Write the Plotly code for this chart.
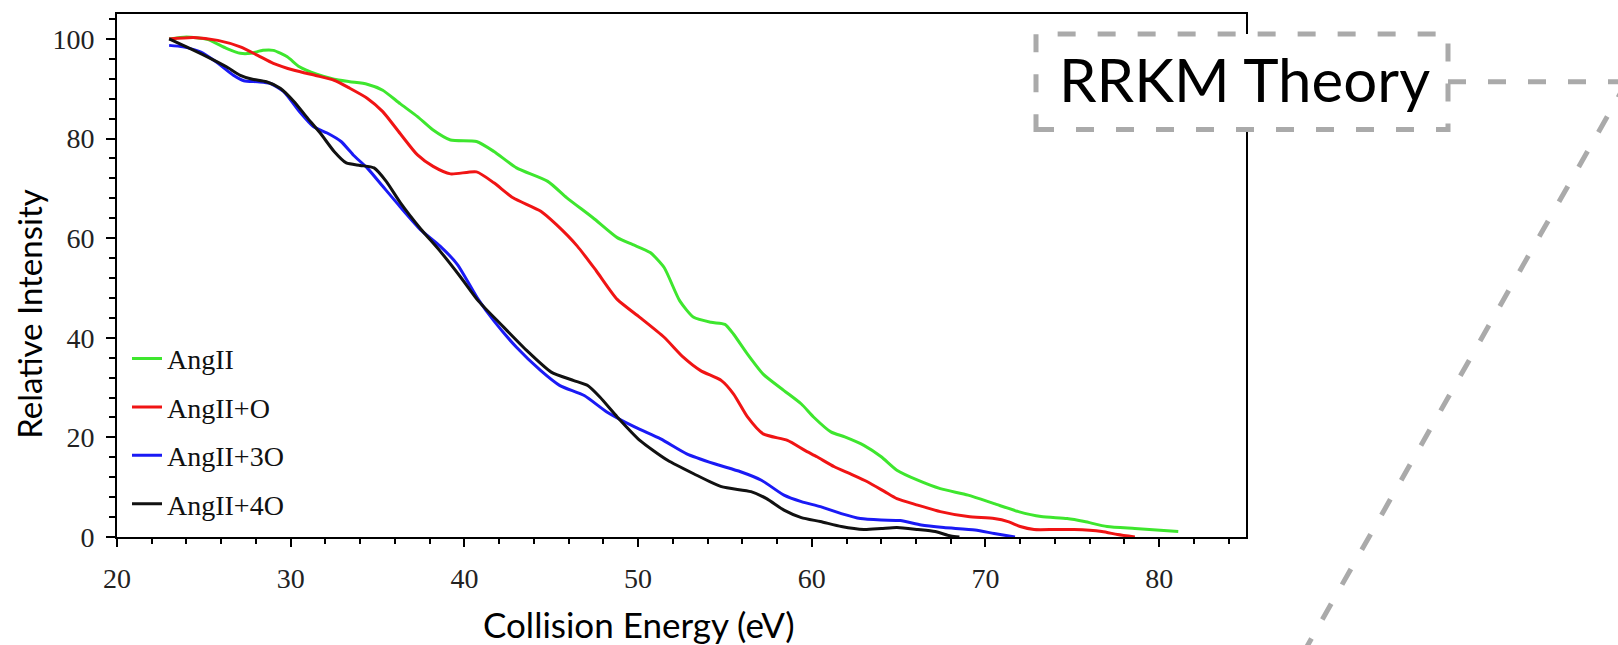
import plotly.graph_objects as go

# ---------------- data ----------------
series_names = ["AngII", "AngII+O", "AngII+3O", "AngII+4O"]

x_angii = [23, 24.0, 25.2, 26.3, 27.1, 27.7, 28.4, 29.0, 29.8, 30.5, 31.5, 32.5, 33.4, 34.4, 35.3,
           36.3, 37.3, 38.2, 39.2, 40.7, 41.7, 43.0, 44.8, 45.9, 47.4, 48.8, 49.7, 50.7, 51.5, 52.4,
           53.2, 54.2, 55.0, 55.5, 56.3, 57.2, 58.4, 59.4, 60.1, 61.1, 61.9, 63.0, 64.0, 64.9, 66.1,
           67.4, 69.0, 70.5, 71.9, 73.2, 74.7, 75.7, 77.0, 78.6, 81.1]
y_angii = [100, 100.4, 99.9, 98.1, 97.1, 97.1, 97.7, 97.7, 96.4, 94.4, 92.9, 91.9, 91.4, 90.9, 89.7,
           87.0, 84.4, 81.7, 79.7, 79.4, 77.4, 74.1, 71.4, 68.1, 64.1, 60.1, 58.7, 57.1, 54.1, 47.4,
           44.1, 43.1, 42.7, 40.7, 36.7, 32.7, 29.4, 26.7, 24.1, 21.1, 20.1, 18.4, 16.1, 13.4, 11.4,
           9.7, 8.4, 6.7, 5.1, 4.1, 3.7, 3.1, 2.1, 1.7, 1.1]

x_angii_o = [23, 24.4, 25.8, 27.1, 28.1, 29.0, 30.2, 31.5, 32.5, 33.4, 34.4, 35.3, 36.3, 37.3, 38.2,
             39.2, 40.7, 41.7, 42.8, 44.4, 45.3, 46.5, 47.6, 48.8, 50.1, 51.5, 52.6, 53.6, 54.8, 55.5,
             56.3, 57.2, 58.6, 59.6, 60.3, 61.3, 62.2, 63.2, 64.2, 64.9, 66.1, 67.4, 69.0, 70.5, 71.3,
             72.0, 72.8, 74.0, 75.1, 76.7, 77.6, 78.6]
y_angii_o = [100, 100.3, 99.7, 98.4, 96.7, 95.1, 93.7, 92.6, 91.7, 90.1, 88.1, 85.4, 81.0, 76.7, 74.4,
             72.9, 73.3, 71.1, 68.1, 65.4, 62.7, 58.4, 53.4, 47.7, 44.1, 40.1, 36.1, 33.4, 31.4, 28.7,
             24.1, 20.7, 19.4, 17.4, 16.1, 14.1, 12.7, 11.1, 9.1, 7.7, 6.4, 5.1, 4.1, 3.7, 3.1,
             2.1, 1.5, 1.5, 1.5, 1.1, 0.5, 0]

x_angii_3o = [23, 23.8, 24.8, 25.7, 26.7, 27.3, 28.1, 28.8, 29.6, 30.5, 31.3, 32.1, 32.9, 33.6, 34.4,
              35.3, 36.3, 37.5, 38.6, 39.6, 40.8, 41.7, 43.0, 44.4, 45.5, 46.9, 48.2, 49.8, 51.3, 52.8,
              54.4, 55.9, 57.1, 58.4, 59.4, 60.5, 61.7, 62.8, 64.0, 65.1, 66.3, 67.6, 69.4, 70.5, 71.7]
y_angii_3o = [98.7, 98.4, 97.4, 95.4, 92.7, 91.6, 91.4, 91.1, 89.4, 85.4, 82.4, 81.1, 79.4, 76.7, 74.1,
              70.4, 66.3, 61.6, 58.4, 54.7, 47.7, 43.4, 38.1, 33.4, 30.4, 28.4, 25.1, 22.1, 19.7, 16.7,
              14.7, 13.1, 11.4, 8.4, 7.1, 6.1, 4.7, 3.7, 3.4, 3.3, 2.4, 1.9, 1.4, 0.7, 0]

x_angii_4o = [23, 24.0, 25.2, 26.3, 27.1, 27.8, 28.6, 29.4, 30.2, 30.9, 31.7, 32.5, 33.2, 34.0, 34.8,
              35.5, 36.3, 37.5, 38.6, 39.8, 40.8, 42.1, 43.6, 45.0, 46.3, 47.1, 47.8, 48.8, 50.1, 51.7,
              53.2, 54.8, 56.5, 57.4, 58.4, 59.4, 60.5, 61.7, 63.0, 64.0, 64.9, 66.1, 67.1, 68.0, 68.5]
y_angii_4o = [100, 98.4, 96.4, 94.4, 92.7, 91.9, 91.4, 90.1, 87.4, 84.4, 81.1, 77.4, 75.1, 74.6, 74.1,
              71.4, 67.2, 61.8, 57.4, 52.1, 47.4, 42.7, 37.4, 33.1, 31.4, 30.4, 28.1, 24.1, 19.4, 15.4,
              12.7, 10.1, 9.1, 7.7, 5.4, 3.9, 3.1, 2.1, 1.5, 1.7, 1.9, 1.5, 1.1, 0.2, 0]

series_x = [x_angii, x_angii_o, x_angii_3o, x_angii_4o]
series_y = [y_angii, y_angii_o, y_angii_3o, y_angii_4o]
series_colors = ["#3ee62e", "#f01414", "#1a1af5", "#111111"]

x_tickvals = [20, 30, 40, 50, 60, 70, 80]
y_tickvals = [0, 20, 40, 60, 80, 100]

x_title = "Collision Energy (eV)"
y_title = "Relative Intensity"
callout_text = "RRKM Theory"

# ---------------- figure ----------------
W, H = 1618, 645
ML, MR, MT, MB = 117, 372, 12, 108
PW, PH = W - ML - MR, H - MT - MB


def px_x(p):
    return (p - ML) / PW


def px_y(p):
    return (H - MB - p) / PH


fig = go.Figure()
for name, xs, ys, col in zip(series_names, series_x, series_y, series_colors):
    fig.add_trace(go.Scatter(
        x=xs, y=ys, name=name, mode="lines", legendgroup=name,
        line=dict(color=col, width=3, shape="spline", smoothing=0.6),
    ))

serif = "Liberation Serif, Times New Roman, serif"
sans = "Lato, Open Sans, sans-serif"

fig.update_layout(
    width=W, height=H,
    margin=dict(l=ML, r=MR, t=MT, b=MB, pad=0),
    paper_bgcolor="white", plot_bgcolor="white",
    showlegend=True,
    legend=dict(
        x=px_x(127), y=px_y(333), xanchor="left", yanchor="top",
        bgcolor="rgba(0,0,0,0)", borderwidth=0,
        font=dict(family=serif, size=28, color="#111"),
        tracegroupgap=9, itemwidth=30,
    ),
    xaxis=dict(
        range=[20, 85], tickvals=x_tickvals, showgrid=False, zeroline=False,
        showline=True, linecolor="black", linewidth=2, mirror=True,
        ticks="outside", ticklen=8, tickwidth=1.5, tickcolor="black",
        minor=dict(dtick=2, tick0=20, ticks="outside", ticklen=5, tickwidth=1.5, tickcolor="black", showgrid=False),
        tickfont=dict(family=serif, size=28, color="#222"),
        ticklabelstandoff=7,
    ),
    yaxis=dict(
        range=[0, 105], tickvals=y_tickvals, showgrid=False, zeroline=False,
        showline=True, linecolor="black", linewidth=2, mirror=True,
        ticks="outside", ticklen=9, tickwidth=1.5, tickcolor="black",
        minor=dict(dtick=4, tick0=0, ticks="outside", ticklen=6, tickwidth=1.5, tickcolor="black", showgrid=False),
        tickfont=dict(family=serif, size=28, color="#222"),
        ticklabelstandoff=6,
    ),
)

# axis titles as annotations (positioned as in the reference)
fig.add_annotation(xref="paper", yref="paper", x=px_x(29), y=px_y(313), text=y_title,
                   textangle=-90, showarrow=False, xanchor="center", yanchor="middle",
                   font=dict(family=sans, size=33, color="black"))
fig.add_annotation(xref="paper", yref="paper", x=px_x(639), y=px_y(624), text=x_title,
                   showarrow=False, xanchor="center", yanchor="middle",
                   font=dict(family=sans, size=35, color="black"))

# callout box with dashed border and connector lines
dash_line = dict(color="#aaaaaa", width=5, dash="18px,22px")
fig.add_shape(type="rect", xref="paper", yref="paper",
              x0=px_x(1036), x1=px_x(1448), y0=px_y(128), y1=px_y(32),
              fillcolor="white", line=dash_line, layer="above")
fig.add_shape(type="line", xref="paper", yref="paper",
              x0=px_x(1448), x1=px_x(1625), y0=px_y(80), y1=px_y(80),
              line=dash_line, layer="above")
fig.add_shape(type="line", xref="paper", yref="paper",
              x0=px_x(1627), x1=px_x(1277), y0=px_y(80), y1=px_y(700),
              line=dash_line, layer="above")
fig.add_annotation(xref="paper", yref="paper", x=px_x(1244), y=px_y(77), text=callout_text,
                   showarrow=False, xanchor="center", yanchor="middle",
                   font=dict(family=sans, size=60, color="black"))

fig.write_html("out.html")
